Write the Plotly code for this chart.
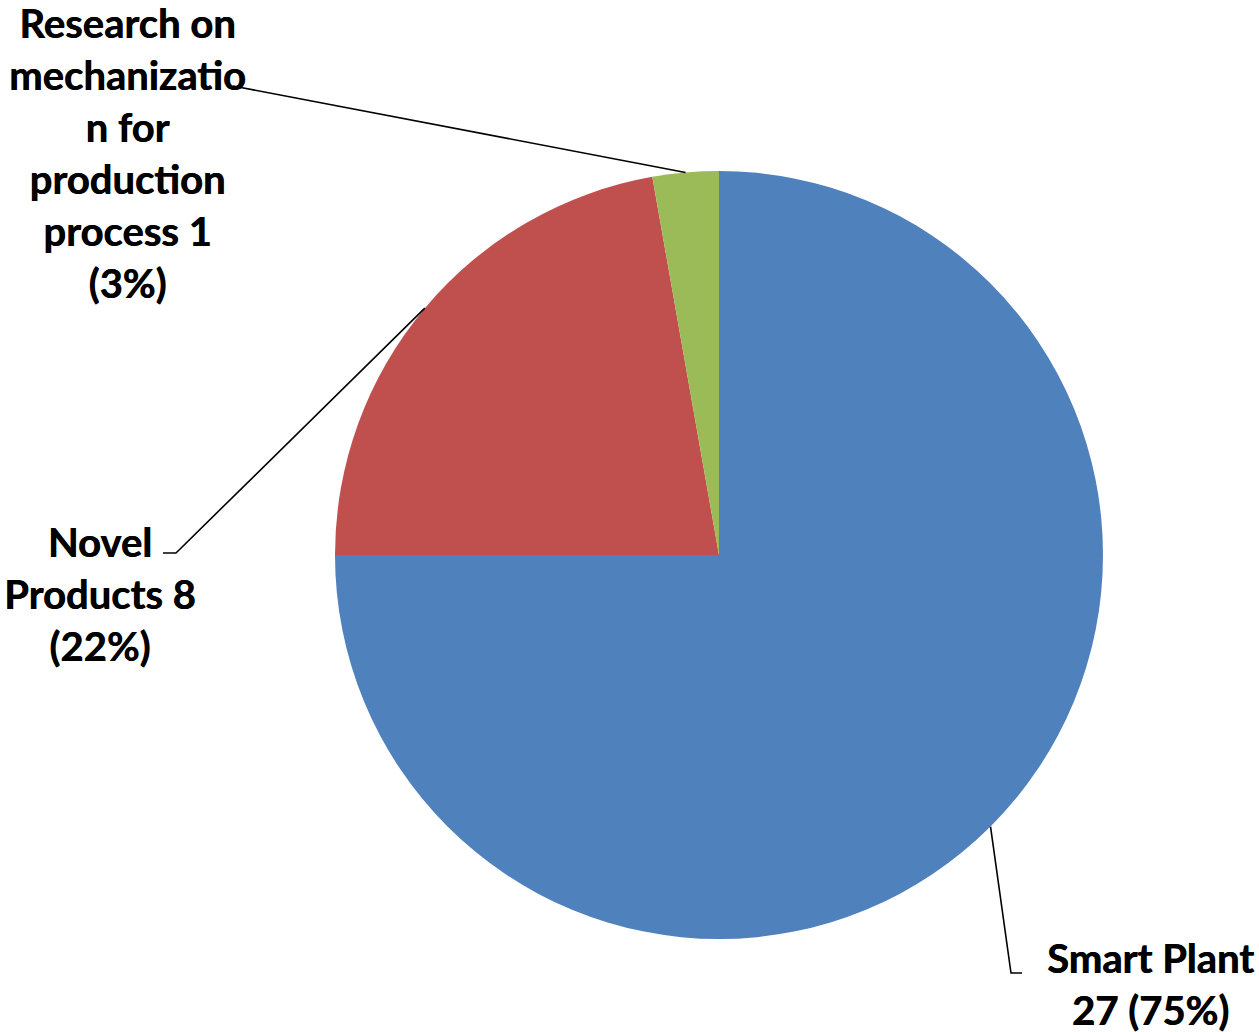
import math
import plotly.graph_objects as go

# ---- data ----
categories = ["Smart Plant", "Novel Products", "Research on mechanization for production process"]
values = [27, 8, 1]
label_texts = [
    "Smart Plant<br>27 (75%)",
    "Novel<br>Products 8<br>(22%)",
    "Research on<br>mechanizatio<br>n for<br>production<br>process 1<br>(3%)",
]
colors = ["#4F81BD", "#C0504D", "#9BBB59"]

W, H = 1259, 1032
cx, cy, R = 719, 555, 384  # pie centre / radius in px

# label text centre positions (px) and leader-line elbow points (px)
label_pos = [(1150, 984), (100, 594), (128, 153)]
elbows = [[(1011, 973), (1022, 973)], [(176, 553), (163, 553)], [(233, 86)]]

def px(x):
    return x / W

def py(y):
    return 1 - y / H

fig = go.Figure(go.Pie(
    labels=categories, values=values, sort=False, direction="clockwise", rotation=0,
    marker=dict(colors=colors, line=dict(width=0)),
    textinfo="none", hoverinfo="label+value+percent", showlegend=False,
    domain=dict(x=[px(cx - R), px(cx + R)], y=[py(cy + R), py(cy - R)]),
))

total = sum(values)
cum = 0
shapes = []
annotations = []
for i, v in enumerate(values):
    mid = (cum + v / 2) / total * 2 * math.pi  # clockwise from 12 o'clock
    cum += v
    ax = cx + R * math.sin(mid)
    ay = cy - R * math.cos(mid)
    pts = [(ax, ay)] + elbows[i]
    path = "M " + " L ".join(f"{px(x)},{py(y)}" for x, y in pts)
    shapes.append(dict(type="path", xref="paper", yref="paper", path=path,
                       line=dict(color="black", width=1.6)))
    lx, ly = label_pos[i]
    annotations.append(dict(
        x=px(lx), y=py(ly), xref="paper", yref="paper", text="<b>" + label_texts[i] + "</b>",
        showarrow=False, xanchor="center", yanchor="middle", align="center",
        font=dict(family="Lato, Open Sans, sans-serif", size=40, color="black",
                  shadow="0.6px 0 0 black"),
    ))

fig.update_layout(
    width=W, height=H,
    margin=dict(l=0, r=0, t=0, b=0, autoexpand=False),
    paper_bgcolor="white", plot_bgcolor="white",
    shapes=shapes, annotations=annotations,
)

fig.write_html(
    "out.html",
    config={"displayModeBar": False},
    post_script="document.body.style.margin='0';document.body.style.overflow='hidden';",
)
